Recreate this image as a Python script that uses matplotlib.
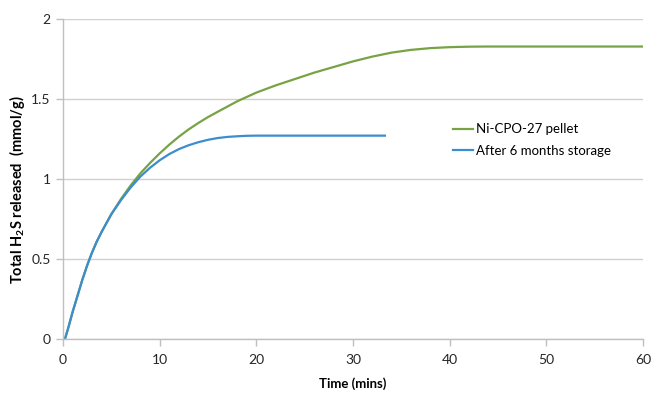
import matplotlib
matplotlib.use("Agg")
import matplotlib.pyplot as plt

plt.rcParams['font.family'] = ['Lato', 'DejaVu Sans']
plt.rcParams['mathtext.fontset'] = 'custom'
plt.rcParams['mathtext.rm'] = 'Lato'
plt.rcParams['mathtext.bf'] = 'Lato:bold'

# H2S breakthrough data (time in mins, cumulative release in mmol/g)
pellet_time = [0.2, 0.5, 1, 1.5, 2, 2.5, 3, 3.5, 4, 5, 6, 7, 8, 9, 10, 11, 12, 13,
               14, 15, 16, 18, 20, 22, 24, 26, 28, 30, 32, 34, 36, 38, 40, 42, 44, 60]
pellet_h2s = [0.0, 0.06, 0.17, 0.27, 0.37, 0.46, 0.54, 0.61, 0.67, 0.78, 0.875, 0.96,
              1.035, 1.10, 1.16, 1.215, 1.265, 1.31, 1.35, 1.387, 1.42, 1.485, 1.54,
              1.585, 1.625, 1.665, 1.70, 1.735, 1.765, 1.79, 1.807, 1.818, 1.824,
              1.827, 1.828, 1.828]

stored_time = [0.2, 0.5, 1, 1.5, 2, 2.5, 3, 3.5, 4, 5, 6, 7, 8, 9, 10, 11, 12, 13,
               14, 15, 16, 17, 18, 19, 20, 33.3]
stored_h2s = [0.0, 0.06, 0.17, 0.27, 0.37, 0.46, 0.54, 0.61, 0.67, 0.78, 0.868, 0.947,
              1.015, 1.07, 1.117, 1.156, 1.187, 1.211, 1.23, 1.245, 1.256, 1.263, 1.267,
              1.27, 1.271, 1.271]

fig = plt.figure(figsize=(6.51, 3.97), dpi=100)
ax = fig.add_axes([63 / 651, 1 - 339 / 397, 580 / 651, 320 / 397])

ax.plot(pellet_time, pellet_h2s, color='#77a344', lw=1.6, label='Ni-CPO-27 pellet',
        solid_joinstyle='round')
ax.plot(stored_time, stored_h2s, color='#3c8dd0', lw=1.6, label='After 6 months storage',
        solid_joinstyle='round')

ax.set_xlim(0, 60)
ax.set_ylim(0, 2)
ax.set_xticks(range(0, 61, 10))
ax.set_yticks([0, 0.5, 1, 1.5, 2])
ax.set_yticklabels(['0', '0.5', '1', '1.5', '2'])

ax.grid(axis='y', color='#d0d0d0', lw=1.0)
ax.set_axisbelow(True)
for side in ['top', 'right']:
    ax.spines[side].set_visible(False)
for side in ['left', 'bottom']:
    ax.spines[side].set_color('#bfbfbf')
    ax.spines[side].set_linewidth(1.0)
ax.tick_params(axis='both', colors='#bfbfbf', labelcolor='#262626',
               labelsize=10, length=5, width=1.0)
ax.tick_params(axis='x', pad=6)
ax.tick_params(axis='y', pad=4)

ax.set_xlabel('Time (mins)', fontsize=9.5, fontweight='bold', labelpad=8)
ax.set_ylabel(r'Total H$_\mathbf{2}$S released  (mmol/g)', fontsize=10.5,
              fontweight='bold', va='center')
ax.yaxis.set_label_coords(-0.079, 0.466)

ax.legend(loc='center left', bbox_to_anchor=(448 / 651, 1 - 140 / 397),
          bbox_transform=fig.transFigure, frameon=False, fontsize=9.5,
          handlelength=1.5, handletextpad=0.2, labelspacing=0.7, borderaxespad=0)

fig.savefig('out.png', dpi=100)
